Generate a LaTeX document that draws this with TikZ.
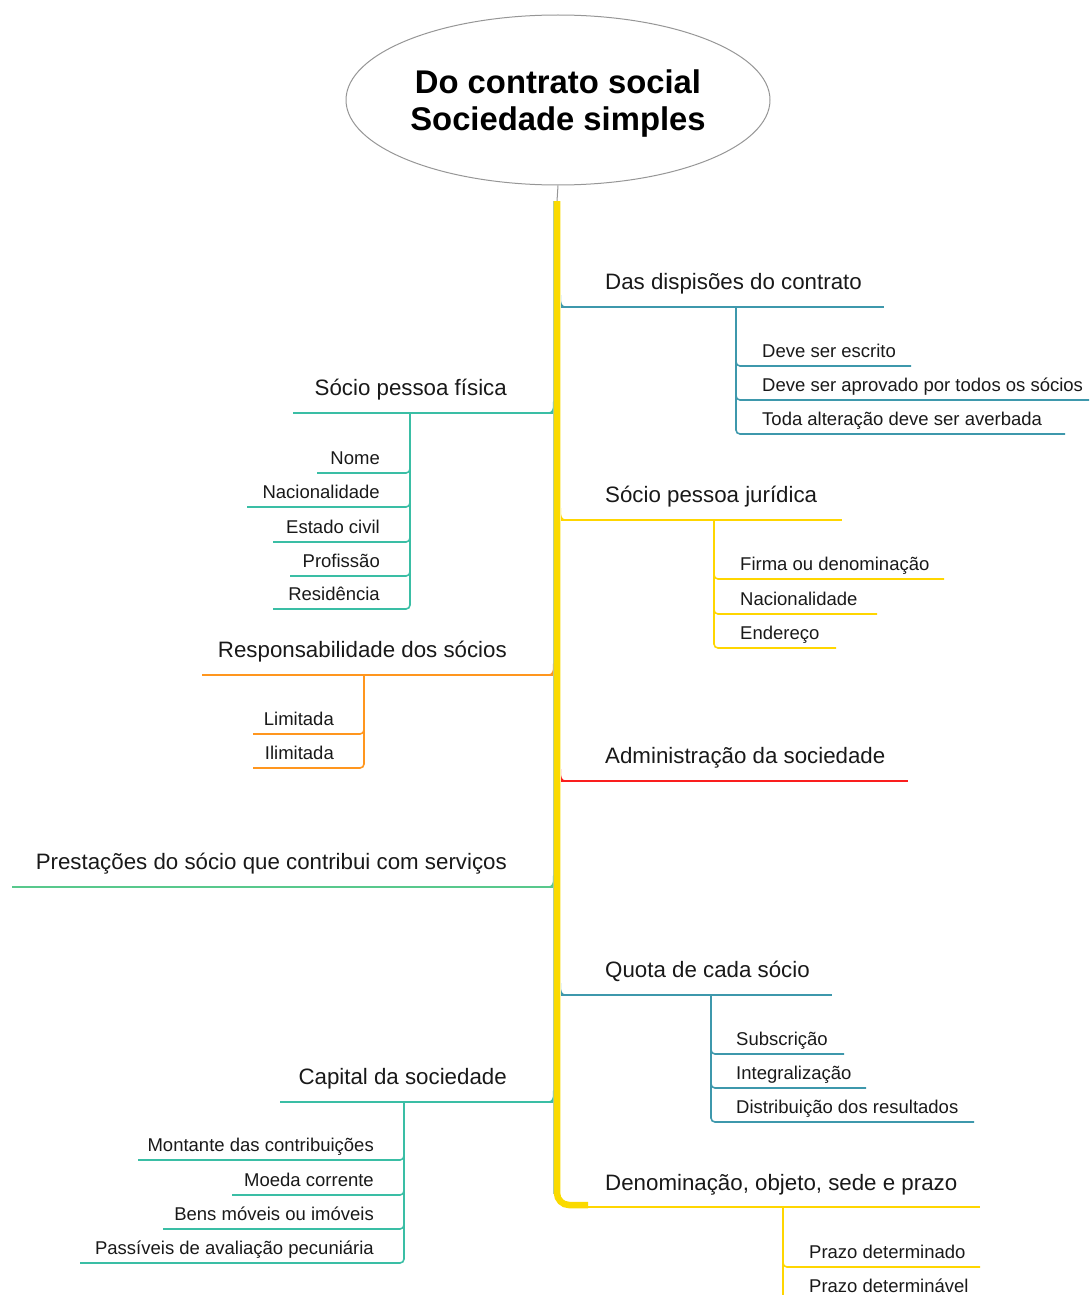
\documentclass[tikz,border=0pt]{standalone}
\usepackage{fontspec}
\setmainfont{Liberation Sans}
\usetikzlibrary{shapes.geometric}

\definecolor{tealA}{RGB}{62,152,172}
\definecolor{tealB}{RGB}{58,190,165}
\definecolor{greenA}{RGB}{88,200,140}
\definecolor{yellowA}{RGB}{255,214,0}
\definecolor{orangeA}{RGB}{255,150,30}
\definecolor{redA}{RGB}{250,30,30}
\definecolor{trunkY}{RGB}{250,218,0}
\definecolor{trunkEdge}{RGB}{180,205,150}
\definecolor{ellGray}{RGB}{150,150,150}
\definecolor{txt}{RGB}{25,25,25}

\tikzset{
  mainR/.style={anchor=base west, inner sep=0pt, text=txt, font=\fontsize{22.3}{26}\selectfont},
  mainL/.style={anchor=base east, inner sep=0pt, text=txt, font=\fontsize{22.3}{26}\selectfont},
  subR/.style={anchor=base west, inner sep=0pt, text=txt, font=\fontsize{18.5}{22}\selectfont},
  subL/.style={anchor=base east, inner sep=0pt, text=txt, font=\fontsize{18.5}{22}\selectfont},
  bline/.style={line width=2pt},
  sline/.style={line width=1.6pt, rounded corners=4pt},
}

\begin{document}
\begin{tikzpicture}[x=1pt,y=-1pt]
\useasboundingbox (0,0) rectangle (1091,1295);
\clip (0,0) rectangle (1091,1295);

% central topic
\node[ellipse, draw=ellGray, line width=1pt, minimum width=424pt, minimum height=170pt,
      inner sep=0pt] (root) at (558,100) {};
\node[align=center, text=black, inner sep=0pt,
      font=\bfseries\fontsize{32.8}{37}\selectfont] (title) at (558,104)
      {Do contrato social\\Sociedade simples};

% trunk
\coordinate (tTop) at (557,201);
\coordinate (tCorner) at (557,1205);
\coordinate (tEnd) at (588,1205);
\coordinate (eTop) at (553.5,201);
\coordinate (eBot) at (553.5,1194);
\draw[ellGray, line width=1pt] (root.south) -- (tTop);
\draw[trunkY, line width=6.5pt, rounded corners=12pt] (tTop) -- (tCorner) -- (tEnd);
\draw[trunkEdge, line width=1pt] (eTop) -- (eBot);

% ---------- right side ----------
% Das dispisões do contrato
\coordinate (r1) at (561,307);
\coordinate (r1e) at (884,307);
\coordinate (r1s) at (736,307);
\fill[tealA] (561,295) .. controls (561,307) .. (578,307) -- (561,307) -- cycle;
\draw[bline, tealA] (r1) -- (r1e);
\node[mainR] (n1) at (605,289) {Das dispisões do contrato};
\coordinate (r1a) at (911,366);
\coordinate (r1b) at (1089,400);
\coordinate (r1c) at (1065,434);
\draw[sline, tealA] (r1s) |- (r1a);
\draw[sline, tealA] (r1s) |- (r1b);
\draw[sline, tealA] (r1s) |- (r1c);
\node[subR] (n1a) at (762,357) {Deve ser escrito};
\node[subR] (n1b) at (762,391) {Deve ser aprovado por todos os sócios};
\node[subR] (n1c) at (762,425) {Toda alteração deve ser averbada};

% Sócio pessoa jurídica
\coordinate (r2) at (561,520);
\coordinate (r2e) at (842,520);
\coordinate (r2s) at (714,520);
\fill[yellowA] (561,508) .. controls (561,520) .. (578,520) -- (561,520) -- cycle;
\draw[bline, yellowA] (r2) -- (r2e);
\node[mainR] (n2) at (605,502) {Sócio pessoa jurídica};
\coordinate (r2a) at (944,579);
\coordinate (r2b) at (877,614);
\coordinate (r2c) at (836,648);
\draw[sline, yellowA] (r2s) |- (r2a);
\draw[sline, yellowA] (r2s) |- (r2b);
\draw[sline, yellowA] (r2s) |- (r2c);
\node[subR] (n2a) at (740,570) {Firma ou denominação};
\node[subR] (n2b) at (740,605) {Nacionalidade};
\node[subR] (n2c) at (740,639) {Endereço};

% Administração da sociedade
\coordinate (r3) at (561,781);
\coordinate (r3e) at (908,781);
\fill[redA] (561,769) .. controls (561,781) .. (578,781) -- (561,781) -- cycle;
\draw[bline, redA] (r3) -- (r3e);
\node[mainR] (n3) at (605,763) {Administração da sociedade};

% Quota de cada sócio
\coordinate (r4) at (561,995);
\coordinate (r4e) at (832,995);
\coordinate (r4s) at (711,995);
\fill[tealA] (561,983) .. controls (561,995) .. (578,995) -- (561,995) -- cycle;
\draw[bline, tealA] (r4) -- (r4e);
\node[mainR] (n4) at (605,977) {Quota de cada sócio};
\coordinate (r4a) at (844,1054);
\coordinate (r4b) at (866,1088);
\coordinate (r4c) at (974,1122);
\draw[sline, tealA] (r4s) |- (r4a);
\draw[sline, tealA] (r4s) |- (r4b);
\draw[sline, tealA] (r4s) |- (r4c);
\node[subR] (n4a) at (736,1045) {Subscrição};
\node[subR] (n4b) at (736,1079) {Integralização};
\node[subR] (n4c) at (736,1113) {Distribuição dos resultados};

% Denominação, objeto, sede e prazo
\coordinate (r5) at (580,1207);
\coordinate (r5e) at (980,1207);
\coordinate (r5s) at (783,1207);
\draw[bline, yellowA] (r5) -- (r5e);
\node[mainR] (n5) at (605,1190) {Denominação, objeto, sede e prazo};
\coordinate (r5a) at (980,1267);
\coordinate (r5b) at (990,1301);
\draw[sline, yellowA] (r5s) |- (r5a);
\draw[sline, yellowA] (r5s) |- (r5b);
\node[subR] (n5a) at (809,1258) {Prazo determinado};
\node[subR] (n5b) at (809,1292) {Prazo determinável};

% ---------- left side ----------
% Sócio pessoa física
\coordinate (l1) at (553,413);
\coordinate (l1e) at (293,413);
\coordinate (l1s) at (410,413);
\fill[tealB] (553,401) .. controls (553,413) .. (536,413) -- (553,413) -- cycle;
\draw[bline, tealB] (l1) -- (l1e);
\node[mainL] (m1) at (507,395) {Sócio pessoa física};
\coordinate (l1a) at (317,473);
\coordinate (l1b) at (247,507);
\coordinate (l1c) at (273,542);
\coordinate (l1d) at (290,576);
\coordinate (l1f) at (273,609);
\draw[sline, tealB] (l1s) |- (l1a);
\draw[sline, tealB] (l1s) |- (l1b);
\draw[sline, tealB] (l1s) |- (l1c);
\draw[sline, tealB] (l1s) |- (l1d);
\draw[sline, tealB] (l1s) |- (l1f);
\node[subL] (m1a) at (380,464) {Nome};
\node[subL] (m1b) at (380,498) {Nacionalidade};
\node[subL] (m1c) at (380,533) {Estado civil};
\node[subL] (m1d) at (380,567) {Profissão};
\node[subL] (m1f) at (380,600) {Residência};

% Responsabilidade dos sócios
\coordinate (l2) at (553,675);
\coordinate (l2e) at (202,675);
\coordinate (l2s) at (364,675);
\fill[orangeA] (553,663) .. controls (553,675) .. (536,675) -- (553,675) -- cycle;
\draw[bline, orangeA] (l2) -- (l2e);
\node[mainL] (m2) at (507,657) {Responsabilidade dos sócios};
\coordinate (l2a) at (253,734);
\coordinate (l2b) at (253,768);
\draw[sline, orangeA] (l2s) |- (l2a);
\draw[sline, orangeA] (l2s) |- (l2b);
\node[subL] (m2a) at (334,725) {Limitada};
\node[subL] (m2b) at (334,759) {Ilimitada};

% Prestações do sócio que contribui com serviços
\coordinate (l3) at (553,887);
\coordinate (l3e) at (12,887);
\fill[greenA] (553,875) .. controls (553,887) .. (536,887) -- (553,887) -- cycle;
\draw[bline, greenA] (l3) -- (l3e);
\node[mainL] (m3) at (507,869) {Prestações do sócio que contribui com serviços};

% Capital da sociedade
\coordinate (l4) at (553,1102);
\coordinate (l4e) at (280,1102);
\coordinate (l4s) at (404,1102);
\fill[tealB] (553,1090) .. controls (553,1102) .. (536,1102) -- (553,1102) -- cycle;
\draw[bline, tealB] (l4) -- (l4e);
\node[mainL] (m4) at (507,1084) {Capital da sociedade};
\coordinate (l4a) at (138,1160);
\coordinate (l4b) at (232,1195);
\coordinate (l4c) at (163,1229);
\coordinate (l4d) at (80,1263);
\draw[sline, tealB] (l4s) |- (l4a);
\draw[sline, tealB] (l4s) |- (l4b);
\draw[sline, tealB] (l4s) |- (l4c);
\draw[sline, tealB] (l4s) |- (l4d);
\node[subL] (m4a) at (374,1151) {Montante das contribuições};
\node[subL] (m4b) at (374,1186) {Moeda corrente};
\node[subL] (m4c) at (374,1220) {Bens móveis ou imóveis};
\node[subL] (m4d) at (374,1254) {Passíveis de avaliação pecuniária};
\end{tikzpicture}
\end{document}
